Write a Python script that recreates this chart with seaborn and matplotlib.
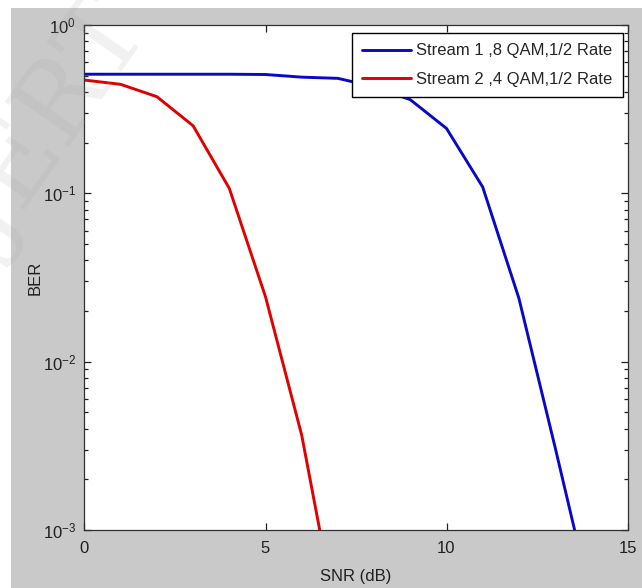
import matplotlib
matplotlib.use("Agg")
import matplotlib.pyplot as plt
import seaborn as sns
import pandas as pd
import numpy as np
from matplotlib.patches import Rectangle
from matplotlib.ticker import LogLocator, FixedLocator, NullLocator

# ---- data ----
snr = [0, 1, 2, 3, 4, 5, 6, 7, 8, 9, 10, 11, 12, 13, 14]
stream1_ber = [0.51, 0.51, 0.51, 0.51, 0.51, 0.508, 0.49, 0.482, 0.43, 0.36,
               0.243, 0.109, 0.0238, 0.0031, 0.00038]
snr2 = [0, 1, 2, 3, 4, 5, 6, 7]
stream2_ber = [0.471, 0.444, 0.375, 0.252, 0.107, 0.0243, 0.00366, 0.00027]
labels = ["Stream 1 ,8 QAM,1/2 Rate", "Stream 2 ,4 QAM,1/2 Rate"]
x_ticks = [0, 5, 10, 15]

df = pd.concat([
    pd.DataFrame({"SNR": snr, "BER": stream1_ber, "Stream": labels[0]}),
    pd.DataFrame({"SNR": snr2, "BER": stream2_ber, "Stream": labels[1]}),
], ignore_index=True)

sns.set_theme(style="ticks")
plt.rcParams["font.family"] = ["Liberation Sans", "DejaVu Sans"]
plt.rcParams["mathtext.fontset"] = "custom"
plt.rcParams["mathtext.rm"] = "Liberation Sans Narrow"
plt.rcParams["mathtext.it"] = "Liberation Sans Narrow"

W, H = 642, 588
fig = plt.figure(figsize=(W / 100, H / 100), dpi=100, facecolor="white")
# grey figure panel (MATLAB style)
fig.patches.append(Rectangle((11.5 / W, 0), 1 - 11.5 / W, 1 - 8 / H,
                             transform=fig.transFigure, facecolor="#c9c9c9",
                             edgecolor="none", zorder=-10))

ax = fig.add_axes([84.5 / W, (H - 530) / H, (627.5 - 84.5) / W, (530 - 25) / H])
ax.set_zorder(1)
ax.set_facecolor("white")

sns.lineplot(data=df, x="SNR", y="BER", hue="Stream",
             palette=["#0808c8", "#e00000"], linewidth=2.1, ax=ax,
             legend=True, estimator=None, sort=False)

ax.set_yscale("log")
ax.set_xlim(0, 15)
ax.set_ylim(1e-3, 1)
ax.xaxis.set_major_locator(FixedLocator(x_ticks))
ax.xaxis.set_minor_locator(NullLocator())
ax.yaxis.set_major_locator(LogLocator(base=10, numticks=10))
ax.yaxis.set_minor_locator(LogLocator(base=10, subs=np.arange(2, 10), numticks=20))

ax.tick_params(which="both", direction="in", top=True, right=True,
               colors="#202020", width=0.9)
ax.tick_params(which="major", length=5, labelsize=12, pad=6)
ax.tick_params(axis="x", which="major", pad=8)
ax.tick_params(which="minor", length=3)
for lab in ax.get_xticklabels():
    lab.set_family(["Liberation Sans Narrow", "Liberation Sans"])
for sp in ax.spines.values():
    sp.set_color("#303030")
    sp.set_linewidth(0.9)

ax.set_xlabel("SNR (dB)", fontsize=12, labelpad=9, color="#202020")
ax.set_ylabel("BER", fontsize=12, labelpad=0, color="#202020")

leg = ax.legend(loc="upper right", bbox_to_anchor=(1 - 4.5 / 543, 1 - 8 / 505),
                borderaxespad=0, fontsize=12, frameon=True, fancybox=False,
                edgecolor="black", framealpha=1, handlelength=2.9,
                handletextpad=0.35, labelspacing=0.8, borderpad=0.62)
leg.get_frame().set_linewidth(1.0)
for l in leg.get_lines():
    l.set_linewidth(2.1)

# faint watermark
fig.text(36 / W, 1 - 135 / H, "IJERT", rotation=55, ha="center", va="center",
         rotation_mode="anchor", fontsize=76, family="DejaVu Serif",
         color="#a8a8a8", alpha=0.16, zorder=5)

fig.savefig("out.png", dpi=100, facecolor="white")
